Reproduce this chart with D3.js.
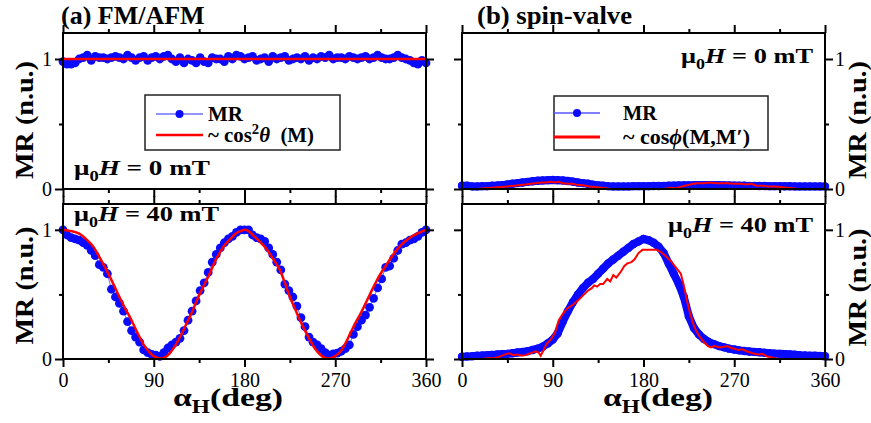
<!DOCTYPE html>
<html>
<head>
<meta charset="utf-8">
<script src="https://cdn.jsdelivr.net/npm/d3@7"></script>
<style>
  body { margin: 0; background: #fff; }
  text { font-family: "Liberation Serif", "Times New Roman", serif; }
</style>
</head>
<body>
<div id="chart"></div>
<script>
// ---- data ----
// (a) FM/AFM, MR measured every 4 deg
const fmAngles = d3.range(0, 361, 4);
const fmTopMR = [
  0.98,0.96,0.96,0.97,1.00,1.01,1.03,0.99,1.02,1.01,
  1.01,1.00,1.01,1.02,1.01,1.00,1.03,1.01,0.99,1.01,
  1.02,0.99,1.01,1.02,1.00,1.02,1.03,1.00,0.98,1.01,
  0.97,1.00,0.99,0.97,1.01,0.98,0.97,1.01,1.00,1.00,
  0.98,1.02,1.00,1.03,1.02,1.00,1.01,1.02,0.99,1.00,
  1.01,0.98,1.02,1.00,1.01,1.02,0.99,1.00,1.01,1.00,
  1.02,0.99,1.01,1.00,1.02,1.01,1.03,1.00,1.01,1.01,
  1.00,1.02,1.01,1.00,1.01,1.02,1.00,1.01,1.03,1.01,
  1.00,1.00,1.01,1.03,1.01,1.00,0.99,0.97,0.96,0.99,
  0.97
];
const fmTopFitAngles = [0, 360];
const fmTopFit = [1, 1];

const fmBotMR = [
  1.00,0.96,0.94,0.93,0.92,0.90,0.88,0.84,0.80,0.73,
  0.71,0.66,0.54,0.48,0.43,0.37,0.29,0.22,0.17,0.13,
  0.07,0.05,0.035,0.03,0.02,0.05,0.085,0.11,0.13,0.16,
  0.22,0.30,0.37,0.45,0.53,0.59,0.67,0.75,0.81,0.86,
  0.90,0.93,0.95,0.98,1.00,1.00,1.00,0.96,0.94,0.93,
  0.91,0.86,0.81,0.75,0.69,0.58,0.53,0.48,0.41,0.32,
  0.25,0.17,0.13,0.11,0.08,0.05,0.03,0.04,0.045,0.06,
  0.08,0.11,0.19,0.25,0.30,0.34,0.40,0.47,0.55,0.62,
  0.71,0.72,0.78,0.84,0.89,0.90,0.92,0.93,0.95,0.98,
  1.00
];
const fmBotFitAngles = [0,8,16,24,30,36,43,50,56,61,66,71,76,81,86,91,96,101,106,111,116,121,126,131,136,141,146,151,156,161,166,171,176,180,
  184,189,195,202,208,215,220,225,230,235,240,245,250,255,259,263,268,275,280,285,290,295,300,305,310,315,320,325,330,335,340,345,350,355,360];
const fmBotFit = [1.0,0.99,0.97,0.92,0.87,0.79,0.69,0.58,0.48,0.40,0.33,0.25,0.17,0.10,0.05,0.017,0.004,0.012,0.045,0.10,0.17,0.25,0.33,0.42,0.51,0.59,0.67,0.76,0.83,0.89,0.93,0.97,0.99,1.0,
  0.99,0.955,0.91,0.85,0.78,0.69,0.59,0.48,0.39,0.30,0.22,0.146,0.08,0.035,0.012,0.003,0.015,0.056,0.12,0.20,0.28,0.35,0.43,0.51,0.59,0.66,0.72,0.78,0.835,0.88,0.915,0.945,0.965,0.985,1.0];

// (b) spin-valve, MR every 5 deg (dense markers)
const svAngles = d3.range(0, 361, 5);
const svTopMR = [
  0.025,0.025,0.02,0.02,0.022,0.022,0.025,0.027,0.03,0.035,
  0.04,0.045,0.05,0.055,0.06,0.063,0.066,0.068,0.07,0.068,
  0.066,0.062,0.057,0.05,0.045,0.04,0.033,0.028,0.025,0.022,
  0.02,0.02,0.02,0.02,0.022,0.022,0.022,0.022,0.023,0.023,
  0.024,0.025,0.026,0.027,0.028,0.028,0.029,0.03,0.03,0.03,
  0.03,0.029,0.028,0.027,0.026,0.025,0.025,0.024,0.024,0.023,
  0.023,0.022,0.022,0.022,0.021,0.021,0.02,0.02,0.02,0.02,
  0.02,0.02,0.02
];
const svTopFitAngles = [8,15,22,30,38,45,52,58,63,68,73,78,83,88,92,96,100,105,110,115,120,126,132,138,143,147,195,200,207,212,218,224,229,234,240,246,252,258,264,270,276,282,287,292,298,304,310,316,322,328,333,338];
const svTopFit = [0,0,0.005,0.01,0.015,0.02,0.025,0.03,0.035,0.04,0.045,0.05,0.05,0.055,0.05,0.055,0.045,0.04,0.04,0.03,0.028,0.02,0.015,0.01,0.005,0,0,0,0.01,0.005,0.02,0.03,0.04,0.045,0.045,0.05,0.045,0.045,0.045,0.04,0.04,0.035,0.04,0.025,0.025,0.02,0.02,0.015,0.01,0.005,0,0];

const svBotMR = [
  0.018,0.02,0.022,0.025,0.027,0.03,0.032,0.035,0.038,0.04,
  0.045,0.05,0.055,0.06,0.07,0.08,0.095,0.12,0.15,0.2,
  0.29,0.37,0.44,0.5,0.55,0.59,0.62,0.66,0.7,0.74,
  0.77,0.8,0.83,0.86,0.89,0.91,0.93,0.92,0.9,0.87,
  0.82,0.74,0.66,0.58,0.48,0.33,0.24,0.19,0.155,0.13,
  0.115,0.1,0.09,0.08,0.073,0.067,0.062,0.058,0.055,0.052,
  0.048,0.045,0.042,0.04,0.038,0.036,0.033,0.03,0.028,0.026,
  0.025,0.024,0.022
];
const svBotFitAngles = [13,20,25,31,38,44,47,51,55,59,63,68,73,76,78,81,84,88,92,96,100,104,110,116,121,125,129,131,134,137,140,144,147,150,153,157,161,164,168,171,175,179,186,193,197,203,208,213,217,220,223,226,229,232,236,240,244,247,250,253,256,260,263,267,270,274,278,282,286,290,294,298,302,306,310,314];
const svBotFit = [0,0,0.005,0.005,0.02,0.04,0.045,0.03,0.035,0.025,0.03,0.045,0.06,0.05,0.025,0.07,0.12,0.15,0.2,0.3,0.35,0.39,0.42,0.46,0.5,0.53,0.55,0.57,0.56,0.58,0.58,0.62,0.6,0.65,0.63,0.67,0.72,0.74,0.75,0.77,0.82,0.845,0.845,0.845,0.83,0.79,0.75,0.7,0.66,0.57,0.455,0.36,0.28,0.22,0.17,0.13,0.1,0.09,0.1,0.095,0.09,0.095,0.1,0.085,0.08,0.07,0.075,0.06,0.05,0.04,0.035,0.04,0.02,0.015,0.005,0];

const majorX = [0, 90, 180, 270, 360];
const minorX = [45, 135, 225, 315];
const majorY = [0, 1];
const minorY = [0.5];

// ---- layout ----
const width = 871, height = 423;
const cols = [{ x0: 63, x1: 426 }, { x0: 462, x1: 825 }];
const rows = [{ y0: 33, y1: 189 }, { y0: 204, y1: 359 }];
const blue = "#0a0aff", red = "#ff0000";
const serif = "Liberation Serif, Times New Roman, serif";

const svg = d3.select("#chart").append("svg")
  .attr("width", width).attr("height", height)
  .style("background", "#fff");

function styleAxis(g, size) {
  g.attr("font-family", serif).attr("font-size", size);
  g.select(".domain").remove();
  g.selectAll(".tick line").attr("stroke", "#000").attr("stroke-width", 2);
  g.selectAll(".tick text").attr("fill", "#000");
}

function drawPanel(c, r, opt) {
  const x = d3.scaleLinear().domain([0, 360]).range([c.x0, c.x1]);
  const y = d3.scaleLinear().domain([0, 1.2]).range([r.y1, r.y0]);
  const g = svg.append("g");

  const mr = opt.mr.map((v, i) => ({ a: opt.angles[i], v }));
  const fit = opt.fit.map((v, i) => ({ a: opt.fitAngles[i], v }));
  const line = d3.line().x(d => x(d.a)).y(d => y(d.v));

  if (opt.dense) {
    // densely packed markers merge into a band
    g.append("path").datum(mr).attr("d", line)
      .attr("fill", "none").attr("stroke", blue).attr("stroke-width", 8)
      .attr("stroke-linecap", "round").attr("stroke-linejoin", "round");
    g.selectAll("circle").data(mr).enter().append("circle")
      .attr("cx", d => x(d.a)).attr("cy", d => y(d.v)).attr("r", 4.2)
      .attr("fill", blue);
  } else {
    g.append("path").datum(mr).attr("d", line)
      .attr("fill", "none").attr("stroke", "#6f6fff").attr("stroke-width", 1);
    g.selectAll("circle").data(mr).enter().append("circle")
      .attr("cx", d => x(d.a)).attr("cy", d => y(d.v)).attr("r", 4.4)
      .attr("fill", blue);
  }

  const fitLine = opt.dense ? line : d3.line().x(d => x(d.a)).y(d => y(d.v)).curve(d3.curveCatmullRom);
  g.append("path").datum(fit).attr("d", fitLine)
    .attr("fill", "none").attr("stroke", red)
    .attr("stroke-width", opt.dense ? 2 : 2.5);

  // frame
  g.append("rect")
    .attr("x", c.x0).attr("y", r.y0)
    .attr("width", c.x1 - c.x0).attr("height", r.y1 - r.y0)
    .attr("fill", "none").attr("stroke", "#000").attr("stroke-width", 2);

  // ticks, all pointing outward
  const axes = [
    [d3.axisBottom(x).tickValues(majorX).tickSize(8).tickPadding(6)
      .tickFormat(opt.xLabels ? d3.format("d") : ""), `translate(0,${r.y1})`],
    [d3.axisBottom(x).tickValues(minorX).tickSize(4).tickFormat(""), `translate(0,${r.y1})`],
    [d3.axisTop(x).tickValues(majorX).tickSize(8).tickFormat(""), `translate(0,${r.y0})`],
    [d3.axisTop(x).tickValues(minorX).tickSize(4).tickFormat(""), `translate(0,${r.y0})`],
    [d3.axisLeft(y).tickValues(majorY).tickSize(8).tickPadding(3)
      .tickFormat(opt.yLabelSide === "left" ? d3.format("d") : ""), `translate(${c.x0},0)`],
    [d3.axisLeft(y).tickValues(minorY).tickSize(4).tickFormat(""), `translate(${c.x0},0)`],
    [d3.axisRight(y).tickValues(majorY).tickSize(8).tickPadding(2)
      .tickFormat(opt.yLabelSide === "right" ? d3.format("d") : ""), `translate(${c.x1},0)`],
    [d3.axisRight(y).tickValues(minorY).tickSize(4).tickFormat(""), `translate(${c.x1},0)`]
  ];
  axes.forEach(([ax, tr]) => {
    g.append("g").attr("transform", tr).call(ax).call(s => styleAxis(s, 20));
  });

  // y-axis title
  const yt = opt.yLabelSide === "left" ? 33 : 866;
  g.append("text")
    .attr("transform", `translate(${yt},${(r.y0 + r.y1) / 2 + opt.yTitleShift}) rotate(-90)`)
    .attr("text-anchor", "middle")
    .attr("font-weight", "bold").attr("font-size", 26)
    .attr("textLength", 118).attr("lengthAdjust", "spacingAndGlyphs")
    .text("MR (n.u.)");

  // field annotation
  const ann = g.append("text")
    .attr("x", opt.ann.x).attr("y", opt.ann.y)
    .attr("text-anchor", opt.ann.anchor)
    .attr("font-weight", "bold").attr("font-size", 22)
    .attr("textLength", opt.ann.len).attr("lengthAdjust", "spacingAndGlyphs");
  ann.append("tspan").text("\u03bc");
  ann.append("tspan").attr("font-size", 15).attr("dy", 6).text("0");
  ann.append("tspan").attr("font-style", "italic").attr("dy", -6).text("H");
  ann.append("tspan").text(" = " + opt.ann.field + " mT");
}

drawPanel(cols[0], rows[0], {
  angles: fmAngles, mr: fmTopMR, fitAngles: fmTopFitAngles, fit: fmTopFit,
  dense: false, xLabels: false, yLabelSide: "left", yTitleShift: 9,
  ann: { x: 74, y: 175, anchor: "start", field: "0", len: 136 }
});
drawPanel(cols[0], rows[1], {
  angles: fmAngles, mr: fmBotMR, fitAngles: fmBotFitAngles, fit: fmBotFit,
  dense: false, xLabels: true, yLabelSide: "left", yTitleShift: 4,
  ann: { x: 74, y: 221, anchor: "start", field: "40", len: 145 }
});
drawPanel(cols[1], rows[0], {
  angles: svAngles, mr: svTopMR, fitAngles: svTopFitAngles, fit: svTopFit,
  dense: true, xLabels: false, yLabelSide: "right", yTitleShift: 9,
  ann: { x: 813, y: 63, anchor: "end", field: "0", len: 132 }
});
drawPanel(cols[1], rows[1], {
  angles: svAngles, mr: svBotMR, fitAngles: svBotFitAngles, fit: svBotFit,
  dense: true, xLabels: true, yLabelSide: "right", yTitleShift: 6,
  ann: { x: 813, y: 232, anchor: "end", field: "40", len: 145 }
});

// panel titles
svg.append("text").attr("x", 61).attr("y", 24)
  .attr("font-weight", "bold").attr("font-size", 26).text("(a) FM/AFM");
svg.append("text").attr("x", 477).attr("y", 24)
  .attr("font-weight", "bold").attr("font-size", 26)
  .attr("textLength", 155).attr("lengthAdjust", "spacingAndGlyphs").text("(b) spin-valve");

// x-axis titles
[173, 603].forEach(xs => {
  const t = svg.append("text").attr("x", xs).attr("y", 406)
    .attr("font-weight", "bold").attr("font-size", 26)
    .attr("textLength", 110).attr("lengthAdjust", "spacingAndGlyphs");
  t.append("tspan").text("\u03b1");
  t.append("tspan").attr("font-size", 18).attr("dy", 7).text("H");
  t.append("tspan").attr("dy", -7).text("(deg)");
});

// legends
function legend(box, lineX0, lineX1, textX, items) {
  const lg = svg.append("g");
  lg.append("rect").attr("x", box.x).attr("y", box.y)
    .attr("width", box.w).attr("height", box.h)
    .attr("fill", "#fff").attr("stroke", "#222").attr("stroke-width", 1.5);
  items.forEach(it => {
    lg.append("line").attr("x1", lineX0).attr("x2", lineX1)
      .attr("y1", it.y).attr("y2", it.y)
      .attr("stroke", it.color).attr("stroke-width", it.w);
    if (it.dot) {
      lg.append("circle").attr("cx", (lineX0 + lineX1) / 2).attr("cy", it.y)
        .attr("r", 4).attr("fill", blue);
    }
    const t = lg.append("text").attr("x", textX).attr("y", it.y + 7)
      .attr("font-weight", "bold").attr("font-size", 20);
    if (it.len) t.attr("textLength", it.len).attr("lengthAdjust", "spacingAndGlyphs");
    it.parts.forEach(p => {
      const s = t.append("tspan").text(p.t);
      if (p.italic) s.attr("font-style", "italic");
      if (p.sup) s.attr("font-size", 14).attr("dy", -8);
      if (p.down) s.attr("dy", 8);
    });
  });
}

legend({ x: 145, y: 95, w: 195, h: 55 }, 156, 203, 208, [
  { y: 114, color: "#6f6fff", w: 1.5, dot: true, len: 35, parts: [{ t: "MR" }] },
  { y: 135, color: red, w: 2.5, len: 106, parts: [{ t: "~ cos" }, { t: "2", sup: true }, { t: "\u03b8", italic: true, down: true }, { t: "\u00a0 (M)" }] }
]);
legend({ x: 554, y: 96, w: 214, h: 54 }, 554, 600, 623, [
  { y: 113, color: "#5555ff", w: 1.5, dot: true, len: 34, parts: [{ t: "MR" }] },
  { y: 137, color: red, w: 3, len: 127, parts: [{ t: "~ cos" }, { t: "\u03d5", italic: true }, { t: "(M,M\u2032)" }] }
]);
</script>
</body>
</html>
